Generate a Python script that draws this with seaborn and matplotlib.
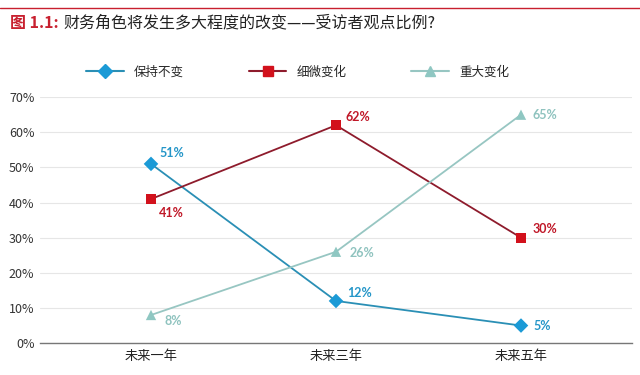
import pandas as pd
import seaborn as sns
import matplotlib.pyplot as plt
from matplotlib.lines import Line2D

sns.set_style('white')
plt.rcParams['font.family'] = ['Noto Sans CJK SC', 'DejaVu Sans']

periods = ['未来一年', '未来三年', '未来五年']
series_names = ['保持不变', '细微变化', '重大变化']
keep = [51, 12, 5]
slight = [41, 62, 30]
major = [8, 26, 65]

line_colors = {'保持不变': '#2a8fb5', '细微变化': '#8e1b2c', '重大变化': '#97c6c2'}
mark_colors = {'保持不变': '#1b9ad6', '细微变化': '#d2111c', '重大变化': '#8fc7c2'}
text_colors = {'保持不变': '#2596c8', '细微变化': '#c01828', '重大变化': '#8fc3bf'}
markers = {'保持不变': 'D', '细微变化': 's', '重大变化': '^'}

df = pd.DataFrame({
    'period': periods * 3,
    'x': [0, 1, 2] * 3,
    'series': [s for s in series_names for _ in periods],
    'value': [v / 100 for v in keep + slight + major],
})

fig = plt.figure(figsize=(6.4, 3.75), dpi=100)
ax = fig.add_axes([0.0625, 0.085, 0.925, 0.656])

sns.lineplot(data=df, x='x', y='value', hue='series', palette=line_colors,
             linewidth=1.3, legend=False, ax=ax)
for s in series_names:
    sub = df[df.series == s]
    sns.scatterplot(data=sub, x='x', y='value', color=mark_colors[s], marker=markers[s],
                    s=55, edgecolor='none', legend=False, ax=ax, zorder=5)

# label offsets (points)
offsets = {
    ('保持不变', 0): (6, 8), ('保持不变', 1): (8, 6), ('保持不变', 2): (9, 0),
    ('细微变化', 0): (6, -10), ('细微变化', 1): (7, 6), ('细微变化', 2): (8, 6),
    ('重大变化', 0): (10, -4), ('重大变化', 1): (10, -1), ('重大变化', 2): (8, 0),
}
for _, r in df.iterrows():
    dx, dy = offsets[(r.series, r.x)]
    ax.annotate(f"{int(round(r.value * 100))}%", (r.x, r.value), xytext=(dx, dy),
                textcoords='offset points', ha='left', va='center', fontsize=9,
                fontweight='bold', color=text_colors[r.series], family=['Lato', 'DejaVu Sans'])

ax.set_xlim(-0.6, 2.6)
ax.set_ylim(0, 0.7)
ax.set_yticks([i / 10 for i in range(8)])
ax.set_yticklabels([f"{i * 10}%" for i in range(8)], fontsize=9, color='#333333')
ax.set_xticks([0, 1, 2])
ax.set_xticklabels(periods, fontsize=9.5, color='#222222')
ax.set_xlabel('')
ax.set_ylabel('')
ax.tick_params(axis='both', length=0, pad=4)
ax.tick_params(axis='x', pad=5)
ax.yaxis.grid(True, color='#e6e6e6', linewidth=0.8)
for side in ['top', 'right', 'left']:
    ax.spines[side].set_visible(False)
ax.spines['bottom'].set_color('#777777')
ax.spines['bottom'].set_linewidth(1.0)
ax.set_axisbelow(True)

handles = [Line2D([0], [0], color=line_colors[s], marker=markers[s], markersize=7.5,
                  markerfacecolor=mark_colors[s], markeredgecolor=mark_colors[s], linewidth=1.5)
           for s in series_names]
fig.legend(handles, series_names, loc='center', bbox_to_anchor=(0.465, 0.808), ncol=3,
           frameon=False, fontsize=9, columnspacing=5.2, handlelength=3)

# header
fig.add_artist(Line2D([0.0, 1.0], [0.98, 0.98], color='#c8202f', linewidth=1.0))
fig.text(0.015, 0.938, '图 1.1:', color='#c8202f', fontsize=11.5, fontweight='bold', va='center')
fig.text(0.099, 0.938, '财务角色将发生多大程度的改变——受访者观点比例?', color='#222222',
         fontsize=11.5, va='center')

fig.savefig('out.png', dpi=100, facecolor='white')
